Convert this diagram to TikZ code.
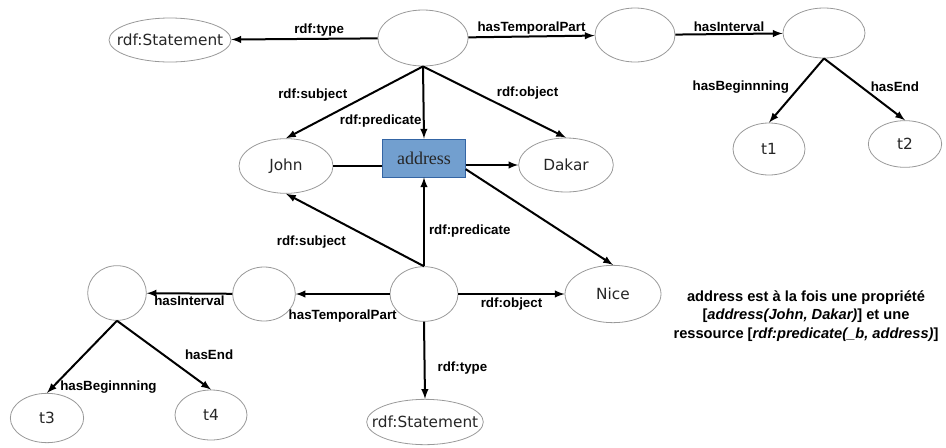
\documentclass[tikz,border=0pt]{standalone}
\usepackage{fontspec}
\usepackage{tikz}
\usetikzlibrary{positioning,shapes.geometric}
\newfontfamily\resfont{DejaVu Sans}
\newfontfamily\arcfont{Liberation Sans}
\newfontfamily\propfont{Liberation Serif}
\definecolor{propfill}{HTML}{729FCF}
\definecolor{propline}{HTML}{3465A4}
\tikzstyle{res} = [draw=black!40, line width=0.6pt, ellipse, inner sep=0pt, text=black!85, font=\resfont\fontsize{11.5}{13}\selectfont]
\tikzstyle{stmt} = [res, inner xsep=-9pt]
\tikzstyle{prop} = [draw=propline, fill=propfill, line width=0.6pt, rectangle, minimum width=62pt, minimum height=28.5pt, inner sep=0pt, text=black!85, font=\propfont\fontsize{13.5}{16}\selectfont]
\tikzstyle{arc} = [inner sep=1pt, font=\arcfont\bfseries\fontsize{10}{12}\selectfont]

\begin{document}
\begin{tikzpicture}[x=0.75pt, y=-0.75pt, >=latex, line width=1.5pt]
	\useasboundingbox (0,0) rectangle (946,447);

	% first statement
	\node [stmt, minimum width=91.5pt, minimum height=33pt] (typeA) at (170,40) {rdf:Statement};
	\node [res, minimum width=67.5pt, minimum height=42pt] (stmtA) at (423,38) {};
	\node [res, minimum width=60pt, minimum height=40.5pt] (partA) at (635,35) {};
	\node [res, minimum width=61.5pt, minimum height=37.5pt] (intervalA) at (824,33) {};
	\node [res, minimum width=54pt, minimum height=39pt] (tA1) at (769,149) {t1};
	\node [res, minimum width=55pt, minimum height=35pt] (tA2) at (905,144) {t2};

	\node [res, minimum width=70.5pt, minimum height=41pt] (john) at (286,166) {John};
	\node [prop] (address) at (424,158) {address};
	\node [res, minimum width=71pt, minimum height=40.5pt] (dakar) at (566,165) {Dakar};
	\node [res, minimum width=72pt, minimum height=43pt] (nice) at (613,294) {Nice};

	% second statement
	\node [res, minimum width=51pt, minimum height=41pt] (stmtB) at (424,294) {};
	\node [res, minimum width=47pt, minimum height=40.5pt] (partB) at (264,294) {};
	\node [res, minimum width=44pt, minimum height=41pt] (intervalB) at (117,293) {};
	\node [res, minimum width=55pt, minimum height=37pt] (tB1) at (47,418) {t3};
	\node [res, minimum width=54pt, minimum height=37.5pt] (tB2) at (211,415) {t4};
	\node [stmt, minimum width=85.5pt, minimum height=34pt] (typeB) at (425,422) {rdf:Statement};

	\draw [->] (stmtA) -- node [arc, above, pos=0.4] {rdf:type} (typeA);
	\draw [->] (stmtA) -- node [arc, above] {hasTemporalPart} (partA);
	\draw [->] (partA) -- node [arc, above] {hasInterval} (intervalA);
	\draw [->] (intervalA.south) -- node [arc, left=6pt, pos=0.45] {hasBeginnning} (tA1.north);
	\draw [->] (intervalA.south) -- node [arc, right=6pt, pos=0.45] {hasEnd} (tA2.north);

	\draw [->] (stmtA.south) -- node [arc, left=14pt, pos=0.4] {rdf:subject} (john.north);
	\draw [->] (stmtA.south) -- node [arc, left, pos=0.75] {rdf:predicate} (address.north);
	\draw [->] (stmtA.south) -- node [arc, above right, pos=0.5] {rdf:object} (dakar.north);

	\draw (john.east) -- (john.east -| address.west);
	\draw [->] (dakar.west -| address.east) -- (dakar.west);
	\draw [->] (address.-15) -- (nice.north);

	\draw [->] (stmtB.north) -- node [arc, below left, pos=0.55, yshift=-5pt] {rdf:subject} (john.south);
	\draw [->] (stmtB.north) -- node [arc, right=2pt, pos=0.4] {rdf:predicate} (address.south);
	\draw [->] (stmtB) -- node [arc, below=1pt] {rdf:object} (nice);
	\draw [->] (stmtB) -- node [arc, below=10pt] {hasTemporalPart} (partB);
	\draw [->] (partB) -- node [arc, below] {hasInterval} (intervalB);
	\draw [->] (intervalB.south) -- node [arc, right=4pt, pos=0.92] {hasBeginnning} (tB1.north);
	\draw [->] (intervalB.south) -- node [arc, right=14pt, pos=0.5] {hasEnd} (tB2.north);
	\draw [->] (stmtB.south) -- node [arc, right=8pt, pos=0.6] {rdf:type} (typeB.north);

	\node [arc, align=center, font=\arcfont\bfseries\fontsize{11}{14}\selectfont] (note) at (806,316)
		{address est à la fois une propriété\\ {[}\textit{address(John, Dakar)}{]} et une\\ ressource {[}\textit{rdf:predicate(\_b, address)}{]}};
\end{tikzpicture}
\end{document}
